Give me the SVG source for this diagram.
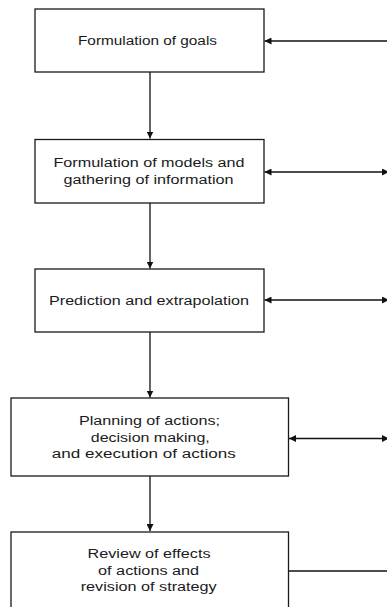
<svg xmlns="http://www.w3.org/2000/svg" width="387" height="607" viewBox="0 0 387 607">
<defs>
<style>
.box{fill:#fff;stroke:#1a1a1a;stroke-width:1.3}
.t{font-family:"Liberation Sans",Arial,sans-serif;font-size:12.5px;fill:#1a1a1a;text-anchor:middle}
.c{stroke:#111;stroke-width:1.3;fill:none}
</style>
<marker id="ah" viewBox="0 0 10 10" refX="10" refY="5" markerWidth="7" markerHeight="7" markerUnits="userSpaceOnUse" orient="auto-start-reverse">
<path d="M0,0 L10,5 L0,10 Z" fill="#111"/>
</marker>
</defs>
<rect width="387" height="607" fill="#fff"/>
<g id="connectors">
<line class="c" x1="150" y1="72" x2="150" y2="138.5" marker-end="url(#ah)"/>
<line class="c" x1="150" y1="203" x2="150" y2="268.5" marker-end="url(#ah)"/>
<line class="c" x1="150" y1="332" x2="150" y2="397.5" marker-end="url(#ah)"/>
<line class="c" x1="150" y1="476" x2="150" y2="531" marker-end="url(#ah)"/>
<line class="c" x1="390" y1="41" x2="264.5" y2="41" marker-end="url(#ah)"/>
<line class="c" x1="264.5" y1="172" x2="389" y2="172" marker-start="url(#ah)" marker-end="url(#ah)"/>
<line class="c" x1="264.5" y1="300" x2="389" y2="300" marker-start="url(#ah)" marker-end="url(#ah)"/>
<line class="c" x1="289" y1="438.5" x2="389" y2="438.5" marker-start="url(#ah)" marker-end="url(#ah)"/>
<line class="c" x1="288" y1="571" x2="390" y2="571"/>
</g>
<g id="n1">
<rect class="box" x="35" y="9" width="229" height="63"/>
<text class="t" x="147.5" y="44.5" textLength="139" lengthAdjust="spacingAndGlyphs">Formulation of goals</text>
</g>
<g id="n2">
<rect class="box" x="35" y="139.5" width="229" height="63.5"/>
<text class="t" x="149" y="166.5" textLength="191" lengthAdjust="spacingAndGlyphs">Formulation of models and</text>
<text class="t" x="148.5" y="184" textLength="170" lengthAdjust="spacingAndGlyphs">gathering of information</text>
</g>
<g id="n3">
<rect class="box" x="35" y="269" width="229" height="63"/>
<text class="t" x="149" y="305" textLength="200" lengthAdjust="spacingAndGlyphs">Prediction and extrapolation</text>
</g>
<g id="n4">
<rect class="box" x="11" y="398" width="277.5" height="78"/>
<text class="t" x="149.5" y="424.5" textLength="141" lengthAdjust="spacingAndGlyphs">Planning of actions;</text>
<text class="t" x="150.3" y="441.5" textLength="119" lengthAdjust="spacingAndGlyphs">decision making,</text>
<text class="t" x="143.8" y="457.8" textLength="184" lengthAdjust="spacingAndGlyphs">and execution of actions</text>
</g>
<g id="n5">
<rect class="box" x="11" y="532" width="277.5" height="90"/>
<text class="t" x="149" y="557.5" textLength="123" lengthAdjust="spacingAndGlyphs">Review of effects</text>
<text class="t" x="148.6" y="574.5" textLength="101" lengthAdjust="spacingAndGlyphs">of actions and</text>
<text class="t" x="148.7" y="591" textLength="136" lengthAdjust="spacingAndGlyphs">revision of strategy</text>
</g>
</svg>
